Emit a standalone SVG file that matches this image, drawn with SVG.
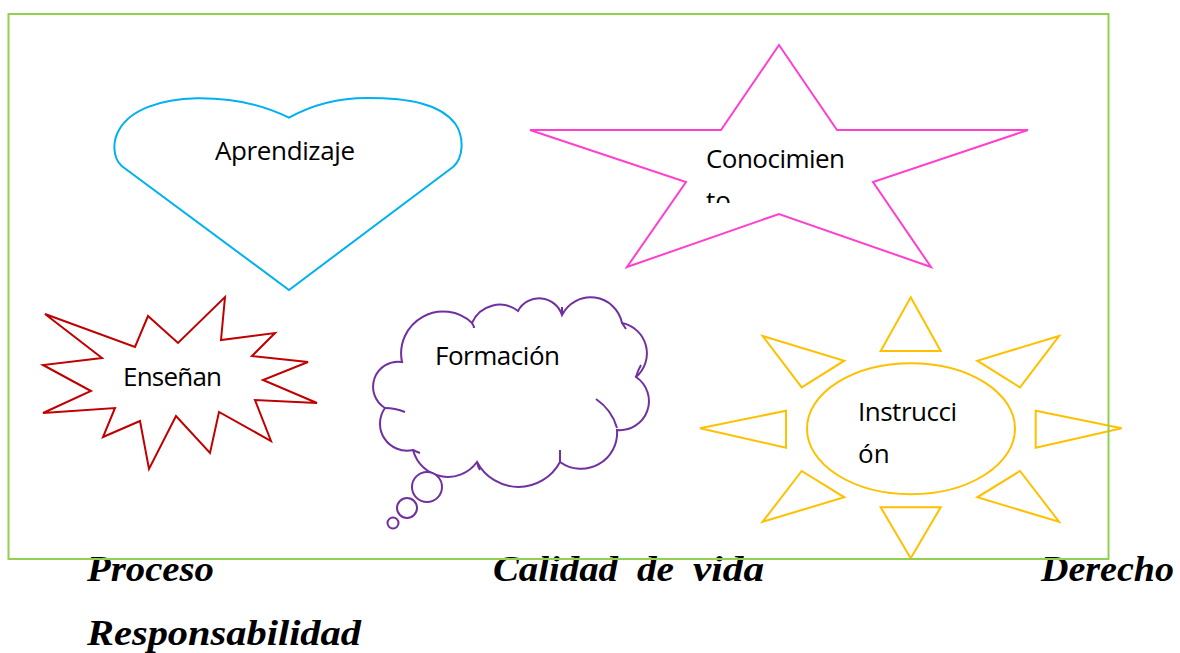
<svg xmlns="http://www.w3.org/2000/svg" width="1180" height="653" viewBox="0 0 1180 653">
<style>
.shape{fill:#ffffff;stroke-width:2;stroke-linejoin:miter}
.lbl{font-family:"Open Sans","Noto Sans","Liberation Sans",sans-serif;font-size:26px;fill:#000000}
.big{font-family:"Liberation Serif","DejaVu Serif",serif;font-size:36px;font-weight:bold;font-style:italic;fill:#000000}
.tail{fill:none;stroke:#7030a0;stroke-width:2}
</style>
<defs>
<clipPath id="starClip"><rect x="690" y="140" width="200" height="63"/></clipPath>
</defs>
<rect width="1180" height="653" fill="#ffffff"/>
<g id="connectors"/>
<g id="heart">
<path class="shape" stroke="#00b0f0" d="M289,117.7 C260,103 230,98 197,98.3 C160,99 130,110 119,130 C112,142 113,158 121.7,166 L289,290 L453.3,166.7 C463,158 465,138 455,123.3 C440,104 410,98 367,98 C335,98 310,106 289,117.7 Z"/>
<text class="lbl" x="215" y="160" textLength="140">Aprendizaje</text>
</g>
<g id="star">
<polygon class="shape" stroke="#ff3fcf" points="779,45 837,130 1028,130 873,182 931,267 779,214 627,267 686,182 530,130 721,130"/>
<g clip-path="url(#starClip)">
<text class="lbl" x="706" y="168" textLength="139">Conocimien</text>
<text class="lbl" x="706" y="210">to</text>
</g>
</g>
<g id="explosion">
<polygon class="shape" stroke="#c00000" points="45,314 135,347 148,316 178,343 225,297 221,340 275,333 252,356 308,362 263,380 317,403 255,400 271,441 219,412 210,453 176,416 149,469 140,421 103,437 115,408 43,413 91,391 43,365 102,358"/>
<text class="lbl" x="123" y="386" textLength="99">Enseñan</text>
</g>
<g id="cloud">
<path class="shape" stroke="#7030a0" d="M402,362 A42 42 0 0 1 472,323 A30 30 0 0 1 518,311 A24 24 0 0 1 562,315 A32 32 0 0 1 622,323 A31 31 0 0 1 636,377 A29 29 0 0 1 617,430 A36 36 0 0 1 560,462 A47 47 0 0 1 477,462 A36 36 0 0 1 413,450 A27 27 0 0 1 385,408 A25 25 0 0 1 402,362 Z"/>
<path class="tail" d="M596,399 Q612,410 617,428 M560,450 L560,462 M477,462 Q478,467 480,470 M413,450 Q417,452 420,453 M385,408 Q395,408 405,412 M562,307 L562,315 M472,323 Q474,326 474,328 M636,377 Q638,370 641,365 M622,323 Q624,326 626,329"/>
<circle class="shape" stroke="#7030a0" cx="427" cy="487" r="15"/>
<circle class="shape" stroke="#7030a0" cx="407" cy="508" r="10"/>
<circle class="shape" stroke="#7030a0" cx="393" cy="523" r="5.5"/>
<text class="lbl" x="435" y="365" textLength="125">Formación</text>
</g>
<g id="sun">
<ellipse class="shape" stroke="#ffc000" cx="911" cy="428.7" rx="104" ry="65.5"/>
<polygon class="shape" stroke="#ffc000" points="910.7,297.3 940.7,351 880.7,351"/>
<polygon class="shape" stroke="#ffc000" points="880.7,507.3 940.7,507.3 910.7,558.3"/>
<polygon class="shape" stroke="#ffc000" points="700,428.3 786,410.7 786,447.7"/>
<polygon class="shape" stroke="#ffc000" points="1121.7,428.3 1035.7,410.7 1035.7,447.7"/>
<polygon class="shape" stroke="#ffc000" points="762.7,336 844.3,360.7 801.7,387.3"/>
<polygon class="shape" stroke="#ffc000" points="1059,336 977.3,360.7 1020,387.3"/>
<polygon class="shape" stroke="#ffc000" points="762.7,521.7 844.3,497.3 801.7,471"/>
<polygon class="shape" stroke="#ffc000" points="1059,521.7 977.3,497.3 1020,471"/>
<text class="lbl" x="858" y="421" textLength="99">Instrucci</text>
<text class="lbl" x="858" y="463">ón</text>
</g>
<g id="labels">
<text class="big" x="87" y="581" textLength="127" lengthAdjust="spacingAndGlyphs">Proceso</text>
<text class="big" y="581"><tspan x="493" textLength="125" lengthAdjust="spacingAndGlyphs">Calidad</tspan> <tspan x="637" textLength="37" lengthAdjust="spacingAndGlyphs">de</tspan> <tspan x="693" textLength="71" lengthAdjust="spacingAndGlyphs">vida</tspan></text>
<text class="big" x="1041" y="581" textLength="133" lengthAdjust="spacingAndGlyphs">Derecho</text>
<text class="big" x="87" y="645" textLength="274" lengthAdjust="spacingAndGlyphs">Responsabilidad</text>
</g>
<g id="frame">
<rect x="8.5" y="14" width="1100" height="545" fill="none" stroke="#92d050" stroke-width="2"/>
</g>
</svg>
